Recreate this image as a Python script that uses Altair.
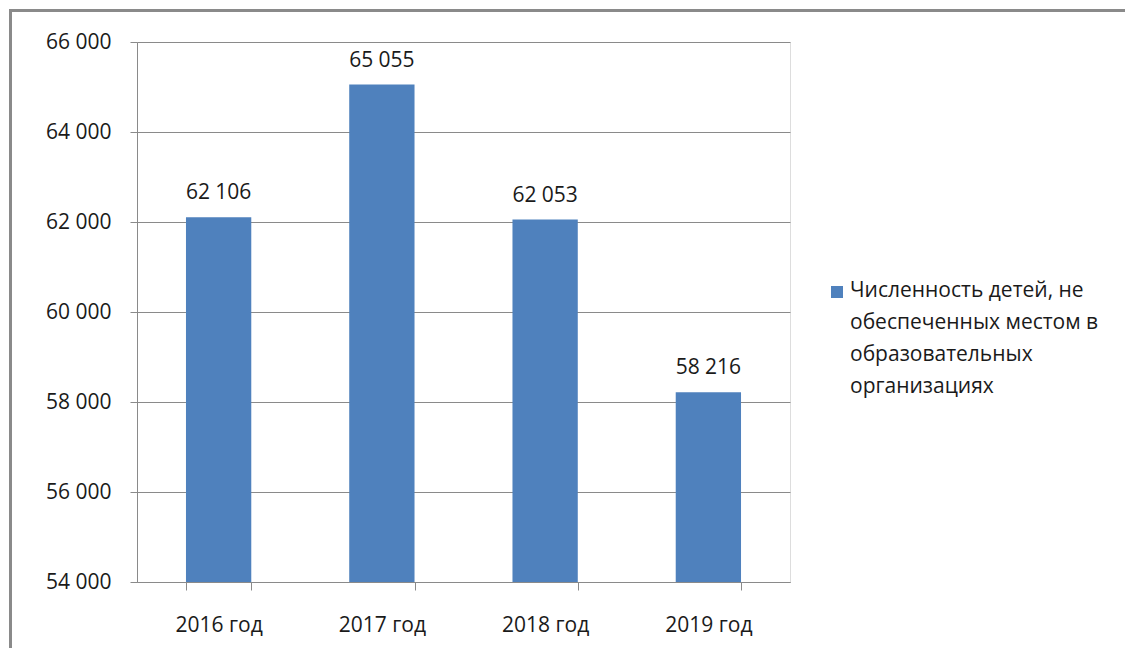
import altair as alt
import pandas as pd

years = ["2016 год", "2017 год", "2018 год", "2019 год"]
values = [62106, 65055, 62053, 58216]
legend_lines = ["Численность детей, не", "обеспеченных местом в", "образовательных", "организациях"]
y_ticks = [54000, 56000, 58000, 60000, 62000, 64000, 66000]

df = pd.DataFrame({"year": years, "value": values})

FONT = "Open Sans"
FS = 21
GRAY = "#8a8a8a"
BLUE = "#4F81BD"
TXT = "#1a1a1a"

x_enc = alt.X("year:N", sort=years, title=None,
              scale=alt.Scale(paddingInner=0.6, paddingOuter=0.3),
              axis=alt.Axis(labelAngle=0, tickBand="extent", tickSize=8, tickColor=GRAY,
                            domainColor=GRAY, labelPadding=24, labelFont=FONT,
                            labelFontSize=FS, labelColor=TXT, grid=False))
y_enc = alt.Y("value:Q", title=None,
              scale=alt.Scale(domain=[54000, 66000], nice=False, zero=False),
              axis=alt.Axis(values=y_ticks, tickSize=7, tickColor=GRAY, domainColor=GRAY,
                            gridColor=GRAY, gridOpacity=1, labelPadding=19, labelFont=FONT,
                            labelFontSize=FS, labelColor=TXT,
                            labelExpr="replace(format(datum.value, ','), ',', ' ')"))

bars = alt.Chart(df).mark_bar(clip=True, color=BLUE).encode(x=x_enc, y=y_enc)

labels = alt.Chart(df).transform_calculate(
    label="replace(format(datum.value, ','), ',', ' ')"
).mark_text(font=FONT, fontSize=FS, baseline="bottom", dy=-14, color=TXT).encode(
    x=alt.X("year:N", sort=years),
    y=alt.Y("value:Q"),
    text="label:N",
)

one = pd.DataFrame({"k": [0]})
legend_symbol = alt.Chart(one).mark_square(size=144, color=BLUE, opacity=1).encode(
    x=alt.value(700), y=alt.value(250))
legend_text = alt.Chart(one).mark_text(font=FONT, fontSize=FS, align="left", baseline="top",
                                       lineHeight=32, color=TXT).encode(
    x=alt.value(713), y=alt.value(238), text=alt.value(legend_lines))

frame_top = alt.Chart(one).mark_rule(color=GRAY, strokeWidth=3).encode(
    x=alt.value(-128), x2=alt.value(1100), y=alt.value(-31.5))
frame_left = alt.Chart(one).mark_rule(color=GRAY, strokeWidth=3).encode(
    x=alt.value(-126.5), y=alt.value(-33), y2=alt.value(700))

chart = alt.layer(bars, labels, legend_symbol, legend_text, frame_top, frame_left).properties(
    width=653, height=540,
    autosize=alt.AutoSizeParams(type="none"),
    padding={"left": 129, "top": 34, "right": 335, "bottom": 66},
).configure_view(stroke=None).configure(background="white")

chart.save("out.html", embed_options={"renderer": "svg", "actions": False})
